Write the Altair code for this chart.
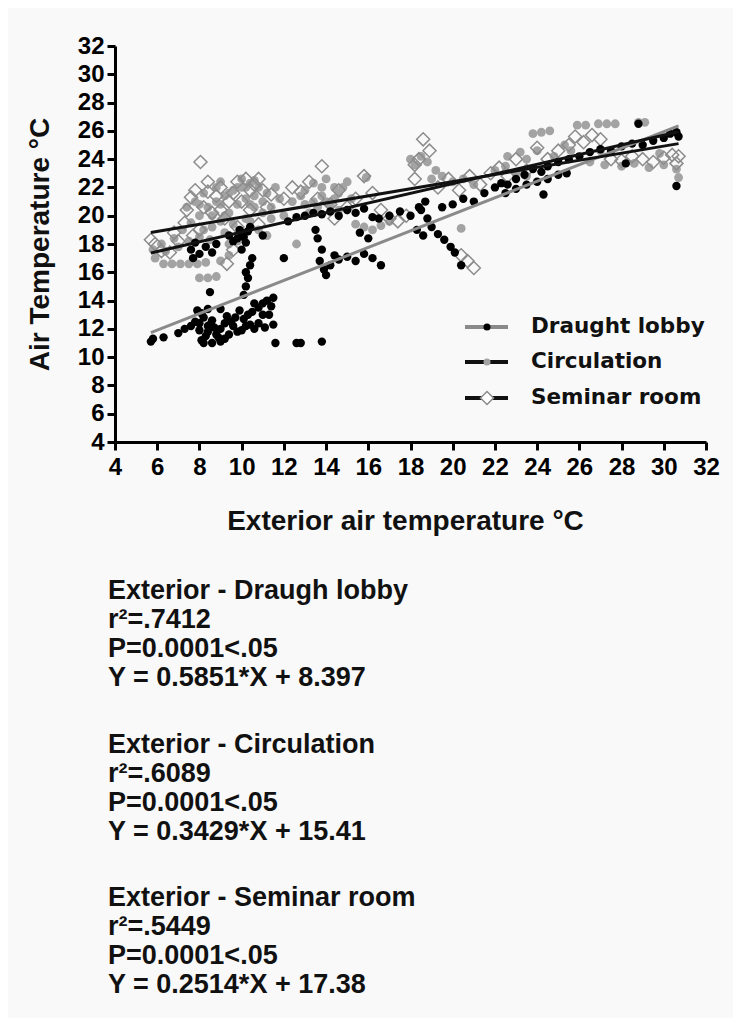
import altair as alt
import pandas as pd

# ---------------- data ----------------
series_names = ["Draught lobby", "Circulation", "Seminar room"]

dl_x = [5.7, 5.8, 6.3, 7.0, 7.3, 7.6, 7.8, 8.0, 8.1, 8.2, 8.3, 8.4, 8.5, 8.2, 8.1, 8.4, 8.7, 8.9, 9.0, 9.2,
        9.4, 9.5, 9.7, 9.8, 10.0, 10.1, 10.3, 10.5, 10.6, 10.8, 11.0, 11.1, 11.2, 11.5, 11.5, 11.3, 9.0, 8.5,
        7.9, 9.3, 9.9, 10.4, 8.6, 8.8,
        8.0, 8.6, 9.0, 9.6, 10.2, 10.8, 11.0, 9.2, 8.4, 10.6, 11.4,
        10.1, 10.2, 10.3, 10.2, 10.4, 10.5, 10.0, 10.2, 10.1, 10.3, 9.8, 9.9, 10.4,
        11.6, 12.6, 12.8, 13.8,
        7.6, 7.8, 8.0, 8.3, 8.6, 8.8, 7.7, 9.4, 9.6, 10.0, 11.0,
        12.2, 12.6, 13.0, 13.4, 13.8, 14.2, 14.6, 15.0, 15.4, 15.8, 16.2,
        13.5, 13.6, 13.8, 13.7, 13.9, 14.0, 14.2, 14.4,
        14.6, 15.0, 15.4, 15.8, 16.2, 16.6, 16.0, 15.6, 12.0,
        16.5, 17.0, 17.5, 18.0, 18.4, 18.7,
        18.5, 18.8, 19.0, 19.3, 19.6, 19.9, 20.1, 20.4, 18.3, 18.6,
        19.5, 20.0, 20.5, 21.0, 21.5, 22.0, 22.3, 22.6, 23.0, 23.4, 23.8, 24.2,
        22.5, 23.0, 23.5, 24.0, 24.5, 25.0, 25.4, 24.3,
        24.5, 25.0, 25.5, 26.0, 26.5, 27.0, 27.5, 28.0, 28.5, 29.0, 29.5, 30.0, 30.3, 30.6, 30.7, 28.8,
        28.2, 30.6]
dl_y = [11.1, 11.3, 11.4, 11.7, 12.0, 12.2, 12.5, 11.9, 11.2, 11.0, 11.5, 11.8, 12.3, 12.8, 13.1, 13.4, 12.1,
        11.4, 11.1, 11.3, 11.6, 12.5, 12.8, 11.8, 11.9, 12.7, 13.0, 13.2, 12.0, 13.5, 13.8, 12.1, 14.0, 14.2,
        12.3, 13.0, 13.4, 14.6, 13.3, 12.9, 13.3, 12.3, 11.0, 11.6,
        12.4, 12.6, 12.0, 12.2, 12.2, 12.4, 13.0, 12.4, 12.2, 13.8, 13.6,
        14.4, 15.0, 15.6, 16.0, 16.5, 17.0, 17.6, 18.1, 18.5, 18.9, 18.4, 19.0, 19.2,
        11.0, 11.0, 11.0, 11.1,
        17.6, 18.1, 17.3, 17.8, 17.4, 18.0, 17.0, 18.6, 18.2, 18.8, 18.6,
        19.6, 19.9, 20.0, 20.2, 20.1, 20.3, 20.0, 20.4, 20.2, 20.5, 19.9,
        19.0, 18.4, 17.6, 16.8, 16.2, 15.8, 16.5, 17.2,
        16.9, 17.1, 16.8, 17.3, 17.0, 16.5, 18.4, 18.8, 17.0,
        19.8, 20.0, 20.3, 20.0, 20.6, 21.0,
        20.4, 19.8, 19.2, 18.7, 18.3, 17.8, 17.4, 16.5, 19.0, 18.6,
        20.6, 20.8, 21.2, 21.0, 21.6, 22.0, 22.3, 22.2, 22.6, 22.9, 23.3, 23.1,
        21.6, 21.9, 22.2, 22.4, 22.6, 22.9, 23.0, 21.5,
        23.5, 23.8, 24.0, 24.2, 24.5, 24.7, 24.6, 24.9, 25.1, 25.0, 25.3, 25.5, 25.8, 25.9, 25.6, 26.5,
        23.7, 22.1]

circ_x = [5.9, 6.3, 6.7, 7.1, 7.5, 7.9, 8.3,
          8.0, 8.4, 8.8,
          5.8, 6.4, 7.0, 7.5, 8.0, 8.5,
          7.6, 8.0, 8.4, 8.8, 9.2, 9.6, 10.0, 10.4, 10.8, 11.2, 9.0, 9.4, 9.8, 10.2, 10.6, 11.0, 8.6, 9.2,
          9.8, 10.4, 11.4, 7.8, 8.2, 7.4, 9.0, 10.0, 10.6, 9.4, 9.0,
          8.2, 8.6, 9.0, 9.4, 9.8, 10.2, 10.6, 11.0, 11.4, 8.0, 8.8, 9.6, 10.2, 10.8, 11.2, 9.4, 10.0,
          7.2, 6.8, 6.2, 10.4, 9.2, 11.6, 11.8,
          12.0, 12.4, 12.8,
          13.0, 13.4, 13.8, 14.2, 14.6, 13.6, 14.0, 14.8, 15.2, 13.2, 14.0, 13.8,
          13.4, 14.4, 14.4, 13.0, 15.0, 14.6,
          15.4, 15.8, 16.2, 16.6, 17.0, 15.9, 12.6,
          18.0, 18.2, 18.5, 18.8,
          19.0, 19.5, 20.0, 20.5, 21.0, 19.2, 20.4,
          22.0, 22.5, 23.0, 23.5, 23.5, 24.0,
          23.8, 24.2, 24.6,
          25.9, 26.3, 26.9, 27.3, 27.7, 28.8, 29.1,
          26.5, 27.2, 28.0, 28.6, 29.3, 30.0, 30.6, 30.7,
          22.6, 23.2, 25.3, 25.6, 24.8, 27.0, 29.8]
circ_y = [17.0, 16.6, 16.6, 16.6, 16.6, 16.6, 16.7,
          15.6, 15.6, 15.7,
          17.6, 17.5, 17.8, 18.2, 18.5, 18.3,
          19.5, 20.0, 20.6, 21.0, 21.4, 21.8, 22.0, 22.3, 22.0, 21.6, 19.6, 20.2, 20.8, 21.2, 20.6, 20.2, 19.2,
          18.8, 18.2, 19.6, 19.8, 21.0, 21.6, 20.6, 22.4, 22.6, 22.5, 17.2, 16.8,
          19.0, 20.0, 20.8, 21.6, 22.0, 22.0, 21.4, 21.0, 20.6, 20.8, 22.0, 19.4, 19.8, 19.0, 18.6, 18.0, 18.4,
          19.0, 18.4, 18.0, 20.8, 20.0, 22.0, 21.2,
          20.0, 21.0, 21.4,
          21.8, 22.3, 21.4, 20.8, 21.6, 20.6, 22.6, 22.0, 21.2, 20.2, 21.0, 22.0,
          21.0, 22.0, 21.2, 20.8, 22.4, 20.4,
          19.4, 19.2, 19.0, 19.3, 19.6, 22.7, 18.0,
          24.0, 23.6, 24.2, 23.8,
          22.6, 22.8, 22.4, 22.6, 22.2, 23.2, 19.1,
          23.2, 23.5, 23.0, 22.8, 24.0, 24.6,
          25.8, 25.9, 26.0,
          26.4, 26.4, 26.5, 26.5, 26.5, 26.6, 26.6,
          23.8, 23.6, 23.5, 23.7, 23.4, 23.6, 23.3, 22.7,
          24.2, 24.5, 25.0, 24.6, 24.2, 24.6, 24.4]

sem_x = [5.7, 5.9, 6.2, 6.6, 7.0, 7.3, 7.6, 7.8, 8.05, 8.4, 8.8, 9.0, 9.4, 9.8, 10.2, 10.6, 11.0, 11.4, 8.6,
         9.2, 9.8, 10.4, 8.0, 7.7, 9.6, 9.3, 10.0, 10.8,
         8.2, 9.0, 9.6, 10.4, 10.8, 11.2, 8.4, 7.4, 6.8,
         12.0, 12.4, 12.8, 13.2, 13.6, 13.8, 14.2, 14.6, 15.0, 15.4, 15.8, 16.2, 16.6, 17.0, 17.4, 17.8, 14.4,
         18.2, 18.6, 18.4, 18.9, 18.2,
         20.4, 20.7, 21.0,
         19.3, 19.8, 20.3, 20.8, 21.3, 21.8,
         22.2, 22.6, 23.0, 23.5, 24.0, 24.5, 25.0, 25.5,
         25.8, 26.2, 26.6, 27.0, 27.5, 28.0, 28.5, 29.0, 29.5, 30.0, 30.4, 30.6, 30.7]
sem_y = [18.3, 18.0, 17.5, 17.4, 18.2, 19.5, 21.3, 21.8, 23.8, 21.7, 21.4, 22.0, 21.0, 22.4, 22.6, 22.2, 21.8,
         21.5, 20.2, 19.8, 19.2, 20.4, 19.0, 18.6, 17.6, 16.6, 21.0, 19.4,
         20.6, 20.4, 21.6, 21.8, 22.6, 20.6, 22.4, 20.4, 18.8,
         21.2, 22.0, 21.7, 22.4, 21.2, 23.5, 20.8, 21.8, 20.6, 21.2, 22.8, 21.6, 20.4, 19.8, 19.6, 20.0, 19.8,
         23.6, 25.4, 24.0, 24.6, 22.6,
         17.2, 16.8, 16.3,
         22.0, 22.6, 21.8, 22.8, 22.2, 23.0,
         23.4, 22.8, 24.0, 23.2, 24.8, 24.0, 24.6, 25.0,
         25.6, 25.2, 25.7, 25.4, 24.0, 23.9, 24.2, 24.0, 23.8, 24.1, 24.3, 23.7, 24.2]

# linear fits as printed under the chart
fit_slope = [0.5851, 0.3429, 0.2514]
fit_intercept = [8.397, 15.41, 17.38]
fit_x_range = [5.7, 30.7]

stat_titles = ["Exterior - Draugh lobby", "Exterior - Circulation", "Exterior - Seminar room"]
stat_r2 = ["r\u00b2=.7412", "r\u00b2=.6089", "r\u00b2=.5449"]
stat_p = ["P=0.0001<.05", "P=0.0001<.05", "P=0.0001<.05"]
stat_eq = ["Y = 0.5851*X + 8.397", "Y = 0.3429*X + 15.41", "Y = 0.2514*X + 17.38"]

tick_values = list(range(4, 33, 2))

# ---------------- styling ----------------
FONT = "Liberation Sans, Arial, sans-serif"
LEG_FONT = "DejaVu Sans, Verdana, sans-serif"
W, H = 591, 396
BLACK_DOT = "#000000"
GREY_DOT = "#a3a3a3"
DIAMOND = "#8c8c8c"
GREY_LINE = "#8a8a8a"

xs = alt.Scale(domain=[4, 32], nice=False, zero=False)
ys = alt.Scale(domain=[4, 32], nice=False, zero=False)

df_dl = pd.DataFrame({"x": dl_x, "y": dl_y})
df_circ = pd.DataFrame({"x": circ_x, "y": circ_y})
df_sem = pd.DataFrame({"x": sem_x, "y": sem_y})

x_axis = alt.Axis(values=tick_values, title="Exterior air  temperature \u00b0C", labelOverlap=False,
                  labelFlush=False, titleX=290, titleY=79, titleBaseline="middle", labelPadding=5)
y_axis = alt.Axis(values=tick_values, title="Air Temperature \u00b0C", labelOverlap=False,
                  labelFlush=False, tickCount=15, titleX=-75, titleY=198, titleBaseline="middle",
                  titleAngle=-90, labelPadding=3)


def xe():
    return alt.X("x:Q", scale=xs, axis=x_axis)


def ye():
    return alt.Y("y:Q", scale=ys, axis=y_axis)


circ_layer = alt.Chart(df_circ).mark_circle(size=78, color=GREY_DOT, opacity=1).encode(x=xe(), y=ye())
sem_layer = alt.Chart(df_sem).mark_point(shape="diamond", size=170, filled=False, color=DIAMOND,
                                        strokeWidth=1.5, opacity=1).encode(x=xe(), y=ye())
dl_layer = alt.Chart(df_dl).mark_circle(size=70, color=BLACK_DOT, opacity=1).encode(x=xe(), y=ye())

fit_rows = []
for name, m, b in zip(series_names, fit_slope, fit_intercept):
    for xv in fit_x_range:
        fit_rows.append({"series": name, "x": xv, "y": m * xv + b})
df_fit = pd.DataFrame(fit_rows)
fit_layer = alt.Chart(df_fit).mark_line(strokeWidth=3).encode(
    x=xe(), y=ye(), detail="series:N",
    color=alt.Color("series:N", scale=alt.Scale(domain=series_names,
                                                range=[GREY_LINE, "#111111", "#111111"]), legend=None))

# ---------------- manual legend ----------------
legend_layers = []
leg_line_colors = [GREY_LINE, "#111111", "#111111"]
leg_rows_y = [281, 316, 352]
for i, name in enumerate(series_names):
    one = pd.DataFrame({"label": [name]})
    yy = leg_rows_y[i]
    legend_layers.append(alt.Chart(one).mark_rule(color=leg_line_colors[i], strokeWidth=4).encode(
        x=alt.value(350), x2=alt.value(393), y=alt.value(yy)))
    if i == 0:
        sym = alt.Chart(one).mark_circle(size=50, color=BLACK_DOT, opacity=1)
    elif i == 1:
        sym = alt.Chart(one).mark_circle(size=50, color=GREY_DOT, opacity=1)
    else:
        sym = alt.Chart(one).mark_point(shape="diamond", size=170, filled=True, fill="#ffffff",
                                       stroke=DIAMOND, strokeWidth=1.5, opacity=1)
    legend_layers.append(sym.encode(x=alt.value(372), y=alt.value(yy)))
    legend_layers.append(alt.Chart(one).mark_text(
        align="left", baseline="middle", font=LEG_FONT, fontWeight="bold", fontSize=21.5, color="#111111"
    ).encode(x=alt.value(416), y=alt.value(yy), text="label:N"))

# ---------------- statistics text block ----------------
text_layers = []
block_top = [545, 699, 852]
line_gap = 29
for i in range(3):
    lines = [stat_titles[i], stat_r2[i], stat_p[i], stat_eq[i]]
    for j, txt in enumerate(lines):
        one = pd.DataFrame({"t": [txt]})
        text_layers.append(alt.Chart(one).mark_text(
            align="left", baseline="middle", font=FONT, fontWeight="bold", fontSize=27, color="#111111"
        ).encode(x=alt.value(-7), y=alt.value(block_top[i] + j * line_gap), text="t:N"))

chart = alt.layer(
    circ_layer, sem_layer, dl_layer, fit_layer, *legend_layers, *text_layers
).properties(
    width=W, height=H, background="#f9f9f9",
    padding={"left": 107, "top": 38, "right": 27, "bottom": 576},
    autosize=alt.AutoSizeParams(type="none"),
).configure_view(stroke=None).configure_axis(
    grid=False, domainColor="#000000", domainWidth=3, tickColor="#000000", tickWidth=3, tickSize=8,
    labelFont=FONT, labelFontWeight="bold", labelFontSize=24, labelColor="#000000",
    titleFont=FONT, titleFontWeight="bold", titleFontSize=28, titleColor="#111111",
    labelOverlap=False,
)

chart.save("out.html", embed_options={"renderer": "svg", "actions": False})
